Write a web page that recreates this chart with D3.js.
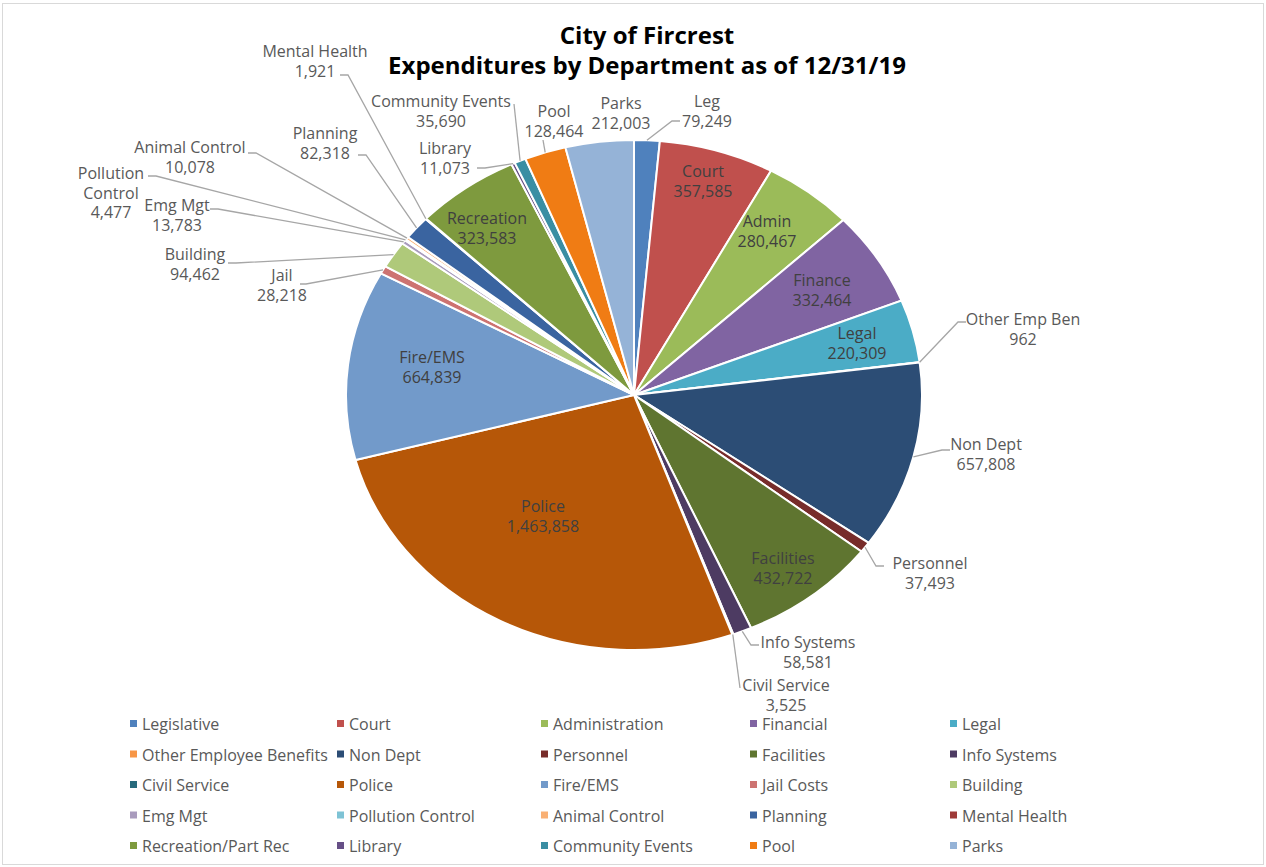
<!DOCTYPE html>
<html>
<head>
<meta charset="utf-8">
<script src="https://d3js.org/d3.v7.min.js"></script>
<style>
body { margin: 0; background: #fff; }
text { font-family: "Open Sans", sans-serif; }
.lbl { font-size: 16px; fill: #595959; }
.inlbl { font-size: 16px; fill: #404040; }
.leg text { font-size: 16px; fill: #595959; }
.title { font-size: 24px; font-weight: bold; fill: #000; }
.leader { fill: none; stroke: #a6a6a6; stroke-width: 1.3; }
</style>
</head>
<body>
<svg width="1266" height="867"></svg>
<script>

// departments in chart order (clockwise from 12 o'clock)
var departments = ["Legislative", "Court", "Administration", "Financial", "Legal",
  "Other Employee Benefits", "Non Dept", "Personnel", "Facilities", "Info Systems",
  "Civil Service", "Police", "Fire/EMS", "Jail Costs", "Building",
  "Emg Mgt", "Pollution Control", "Animal Control", "Planning", "Mental Health",
  "Recreation/Part Rec", "Library", "Community Events", "Pool", "Parks"];

var expenditures = [79249, 357585, 280467, 332464, 220309,
  962, 657808, 37493, 432722, 58581,
  3525, 1463858, 664839, 28218, 94462,
  13783, 4477, 10078, 82318, 1921,
  323583, 11073, 35690, 128464, 212003];

// short names used on the data labels
var shortNames = ["Leg", "Court", "Admin", "Finance", "Legal",
  "Other Emp Ben", "Non Dept", "Personnel", "Facilities", "Info Systems",
  "Civil Service", "Police", "Fire/EMS", "Jail", "Building",
  "Emg Mgt", "Pollution|Control", "Animal Control", "Planning", "Mental Health",
  "Recreation", "Library", "Community Events", "Pool", "Parks"];

var colors = ["#4F81BD", "#C0504D", "#9BBB59", "#8064A2", "#4BACC6",
  "#F79646", "#2C4D75", "#772C2A", "#5F7530", "#4D3B62",
  "#276A7C", "#B65708", "#729ACA", "#CD7371", "#AFC97A",
  "#A99BBD", "#7EC3D5", "#F9B074", "#3A64A0", "#9E3A38",
  "#7E9A3E", "#664F86", "#3A8EA3", "#F07C14", "#95B3D7"];

var titleLines = ["City of Fircrest", "Expenditures by Department as of 12/31/19"];

// label layout: x = text centre, y = first line baseline,
// inside: label sits on the slice; lead = where the leader meets the text, dx = stub length
var labelLayout = {
  "Legislative":        {x: 707, y: 107, lead: [680, 121], dx: -8},
  "Court":              {x: 703, y: 177, inside: true},
  "Administration":     {x: 767, y: 227, inside: true},
  "Financial":          {x: 822, y: 286, inside: true},
  "Legal":              {x: 857, y: 339, inside: true},
  "Other Employee Benefits": {x: 1023, y: 325, lead: [966, 322], dx: -8},
  "Non Dept":           {x: 986, y: 450, lead: [950, 450], dx: -8},
  "Personnel":          {x: 930, y: 569, lead: [884, 566], dx: -8},
  "Facilities":         {x: 783, y: 564, inside: true},
  "Info Systems":       {x: 808, y: 648, lead: [759, 645], dx: -8},
  "Civil Service":      {x: 786, y: 691, lead: [740, 688], dx: 0},
  "Police":             {x: 543, y: 512, inside: true},
  "Fire/EMS":           {x: 432, y: 363, inside: true},
  "Jail Costs":         {x: 282, y: 281, lead: [300, 284], dx: 6},
  "Building":           {x: 195, y: 260, lead: [228, 263], dx: 8},
  "Emg Mgt":            {x: 177, y: 211, lead: [210, 209], dx: 8},
  "Pollution Control":  {x: 111, y: 179, lead: [148, 176], dx: 8},
  "Animal Control":     {x: 190, y: 153, lead: [248, 153], dx: 8},
  "Planning":           {x: 325, y: 139, lead: [358, 155], dx: 8},
  "Mental Health":      {x: 315, y: 57, lead: [340, 75], dx: 8},
  "Recreation/Part Rec": {x: 487, y: 224, inside: true},
  "Library":            {x: 445, y: 154, lead: [477, 168], dx: 8},
  "Community Events":   {x: 441, y: 107, lead: [514, 104], dx: 0},
  "Pool":               {x: 554, y: 117, lead: [543, 140], dx: 0},
  "Parks":              {x: 621, y: 109}
};

var svg = d3.select("svg"),
    width = +svg.attr("width"),
    height = +svg.attr("height");

svg.append("rect")
  .attr("x", 2.5).attr("y", 3.5)
  .attr("width", width - 5).attr("height", height - 6)
  .attr("fill", "#fff").attr("stroke", "#d9d9d9");

var cx = 634, cy = 395, ry = 255, rx = 288;
var sx = rx / ry;

var data = departments.map(function(d, i) {
  return {name: d, short: shortNames[i], value: expenditures[i], color: colors[i]};
});

var pie = d3.pie()
  .value(function(d) { return d.value; })
  .sort(null);

var arcs = pie(data);

var arc = d3.arc().innerRadius(0).outerRadius(ry);

// pie is drawn round then stretched sideways like the original
var g = svg.append("g")
  .attr("transform", "translate(" + cx + "," + cy + ") scale(" + sx + ",1)");

g.selectAll("path")
  .data(arcs)
  .enter().append("path")
  .attr("d", arc)
  .attr("fill", function(d) { return d.data.color; })
  .attr("stroke", "#fff")
  .attr("stroke-width", 2)
  .attr("vector-effect", "non-scaling-stroke");

// edge point of a slice, in page coords
function edge(d) {
  var a = (d.startAngle + d.endAngle) / 2;
  return [cx + rx * Math.sin(a), cy - ry * Math.cos(a)];
}

var fmt = d3.format(",");

arcs.forEach(function(d) {
  var L = labelLayout[d.data.name];
  if (!L) return;
  var lines = d.data.short.split("|").concat([fmt(d.data.value)]);
  var t = svg.append("text")
    .attr("class", L.inside ? "inlbl" : "lbl")
    .attr("text-anchor", "middle");
  lines.forEach(function(s, i) {
    t.append("tspan").attr("x", L.x).attr("y", L.y + i * 19.5).text(s);
  });
  if (L.lead) {
    var pts = [edge(d)];
    if (L.dx) pts.push([L.lead[0] + L.dx, L.lead[1]]);
    pts.push(L.lead);
    svg.append("path")
      .attr("class", "leader")
      .attr("d", d3.line()(pts));
  }
});

svg.selectAll(".title")
  .data(titleLines)
  .enter().append("text")
  .attr("class", "title")
  .attr("x", 647)
  .attr("y", function(d, i) { return 44 + i * 30; })
  .attr("text-anchor", "middle")
  .text(function(d) { return d; });

// legend, 5 per row
var legCols = [130, 337, 541, 750, 950];
var rowY = d3.scalePoint().domain(d3.range(5)).range([724, 846]);

var leg = svg.append("g").attr("class", "leg")
  .selectAll("g")
  .data(data)
  .enter().append("g")
  .attr("transform", function(d, i) {
    return "translate(" + legCols[i % 5] + "," + rowY(Math.floor(i / 5)) + ")";
  });

leg.append("rect")
  .attr("x", 0).attr("y", -4)
  .attr("width", 7).attr("height", 7)
  .attr("fill", function(d) { return d.color; });

leg.append("text")
  .attr("x", 12).attr("y", 6)
  .text(function(d) { return d.name; });

</script>
</body>
</html>
